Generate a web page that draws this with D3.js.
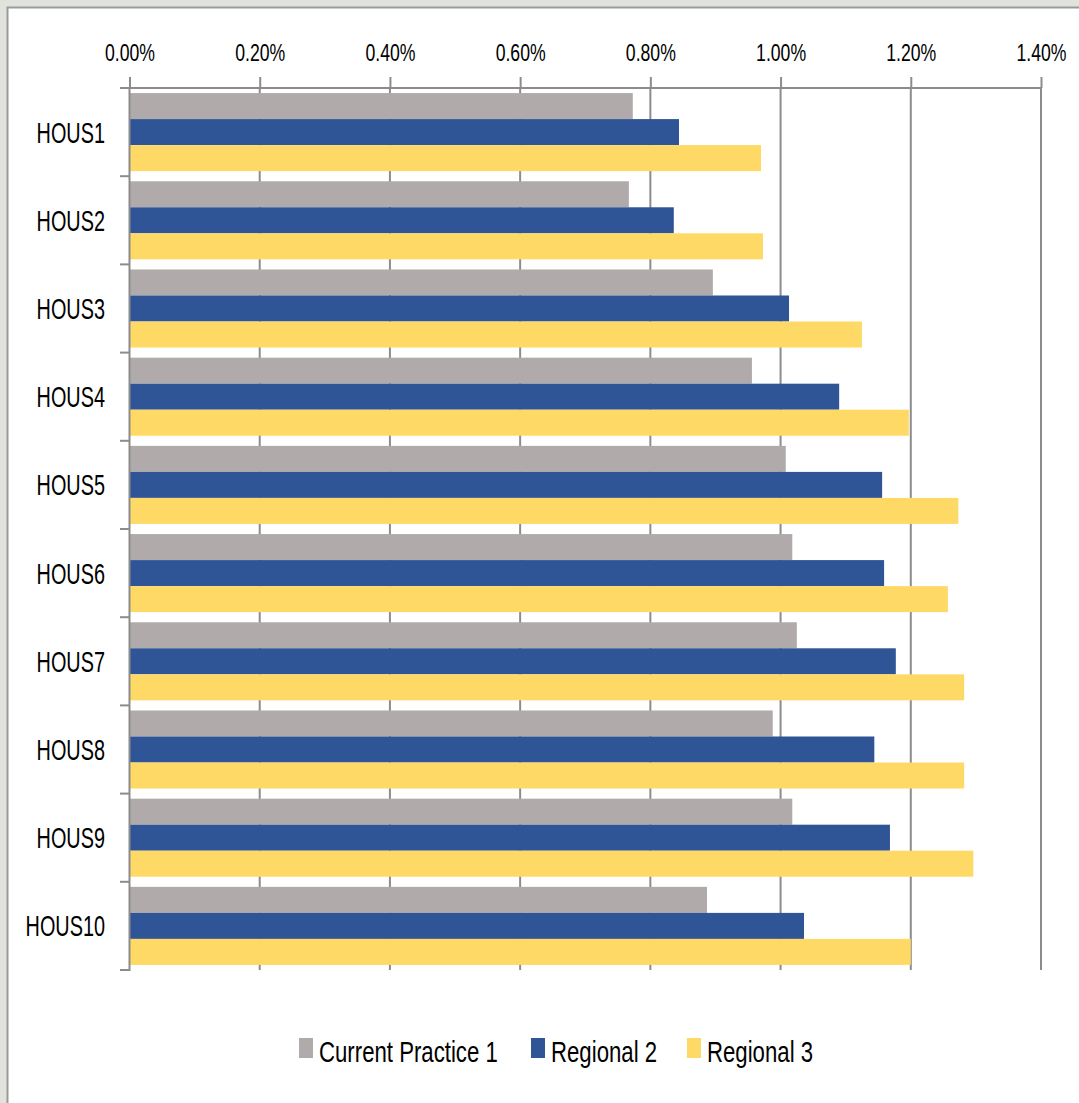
<!DOCTYPE html>
<html><head><meta charset="utf-8">
<script src="https://cdn.jsdelivr.net/npm/d3@7"></script>
<style>
html,body{margin:0;padding:0;background:#dfe3dc;}
svg{display:block;}
</style></head><body>
<script>
const categories = ["HOUS1","HOUS2","HOUS3","HOUS4","HOUS5","HOUS6","HOUS7","HOUS8","HOUS9","HOUS10"];
const seriesNames = ["Current Practice 1","Regional 2","Regional 3"];
const currentPractice1 = [0.773,0.767,0.896,0.956,1.008,1.018,1.025,0.988,1.018,0.887];
const regional2 = [0.844,0.836,1.013,1.090,1.156,1.159,1.177,1.144,1.168,1.036];
const regional3 = [0.970,0.973,1.125,1.197,1.273,1.257,1.282,1.282,1.296,1.200];
const tickValues = [0,0.2,0.4,0.6,0.8,1.0,1.2,1.4];
const colors = ["#b0abaa","#2f5597","#ffd966"];

const W=1079,H=1103;
const font="'Liberation Sans',Arial,sans-serif";
const svg=d3.select("body").append("svg").attr("width",W).attr("height",H);
svg.append("rect").attr("x",0).attr("y",0).attr("width",W).attr("height",H).attr("fill","#dfe3dc");
svg.append("rect").attr("x",7.5).attr("y",7.5).attr("width",W+10).attr("height",H+10)
  .attr("fill","#fff").attr("stroke","#9a9a9a").attr("stroke-width",2);

// horizontally condense text around its anchor x (keeps true screen bbox)
function condense(sel,k){
  sel.each(function(){
    const t=d3.select(this);
    const ax=+t.attr("x")||0;
    const prev=t.attr("transform")||"";
    t.attr("transform",`${prev} translate(${ax},0) scale(${k},1) translate(${-ax},0)`);
  });
}

const x=d3.scaleLinear().domain([0,1.4]).range([129.5,1041]);
const y=d3.scaleBand().domain(categories).range([88,970]).paddingInner(0.115).paddingOuter(0.0575);
const ys=d3.scaleBand().domain(seriesNames).range([0,y.bandwidth()]);

// gridlines
svg.append("g").selectAll("line").data(tickValues.slice(1)).join("line")
  .attr("x1",d=>x(d)).attr("x2",d=>x(d)).attr("y1",88).attr("y2",970)
  .attr("stroke","#8c8c8c").attr("stroke-width",2);

const series=[currentPractice1,regional2,regional3];
series.forEach((vals,si)=>{
  svg.append("g").selectAll("rect").data(categories).join("rect")
    .attr("x",x(0)).attr("y",(c)=>y(c)+ys(seriesNames[si]))
    .attr("width",(c,i)=>x(vals[i])-x(0)).attr("height",ys.bandwidth())
    .attr("fill",colors[si]);
});

// top axis
const xAxis=d3.axisTop(x).tickValues(tickValues).tickFormat(d=>d.toFixed(2)+"%").tickSize(11).tickPadding(16);
const gx=svg.append("g").attr("transform","translate(0,88)").call(xAxis);
gx.select(".domain").attr("stroke","#8c8c8c").attr("stroke-width",2).attr("d",`M${x(0)},0H${x(1.4)}`);
gx.selectAll(".tick line").attr("stroke","#8c8c8c").attr("stroke-width",2);
gx.selectAll("text").attr("font-family",font).attr("font-size",24).attr("fill","#000").attr("dy",0).attr("x",0).call(condense,0.735);

// left axis
svg.append("line").attr("x1",x(0)).attr("x2",x(0)).attr("y1",88).attr("y2",971)
  .attr("stroke","#8c8c8c").attr("stroke-width",2);
const bounds=d3.range(categories.length+1).map(i=>88+i*(882/categories.length));
svg.append("g").selectAll("line").data(bounds).join("line")
  .attr("x1",120).attr("x2",x(0)).attr("y1",d=>d).attr("y2",d=>d)
  .attr("stroke","#8c8c8c").attr("stroke-width",2);
svg.append("g").selectAll("text").data(categories).join("text")
  .attr("x",105).attr("y",c=>y(c)+y.bandwidth()/2+10.5)
  .attr("text-anchor","end").attr("font-family",font).attr("font-size",29).attr("fill","#000").text(c=>c)
  .call(condense,0.685);

// legend
const legendX=[299,531,687];
const lg=svg.append("g");
seriesNames.forEach((n,i)=>{
  lg.append("rect").attr("x",legendX[i]).attr("y",1038).attr("width",14).attr("height",20).attr("fill",colors[i]);
  lg.append("text").attr("x",legendX[i]+20).attr("y",1062)
    .attr("font-family",font).attr("font-size",30).attr("fill","#000").text(n).call(condense,0.74);
});
</script>
</body></html>
